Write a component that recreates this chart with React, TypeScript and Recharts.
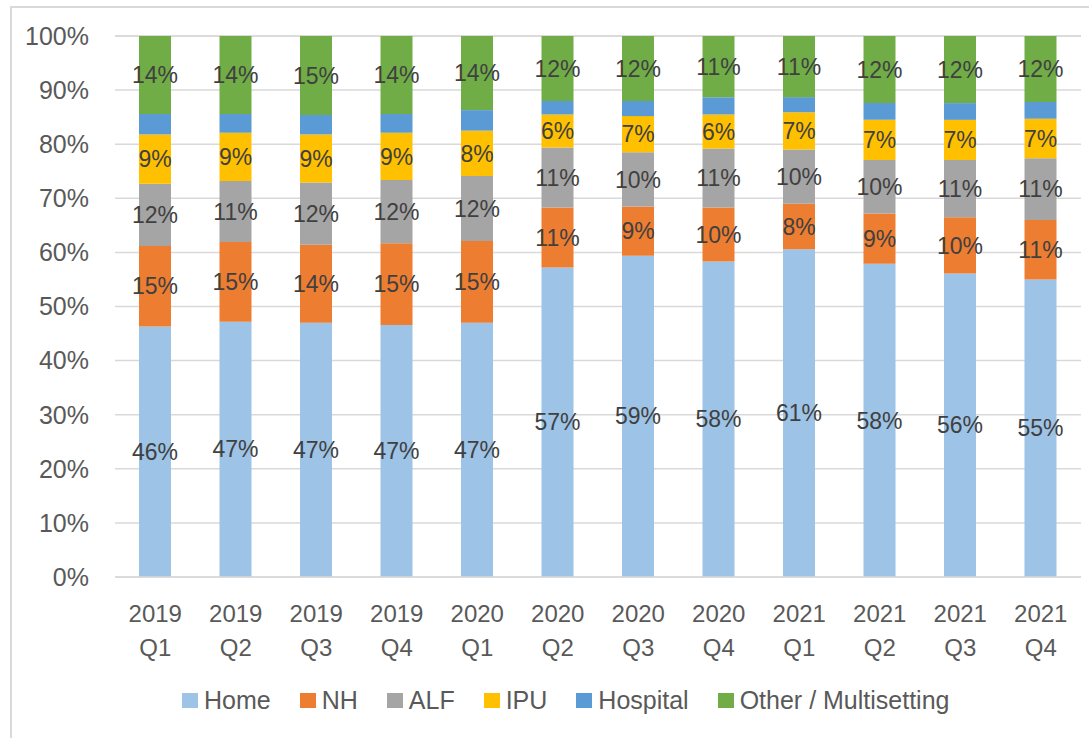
import React from 'react'
import { BarChart, Bar, XAxis, YAxis, CartesianGrid, LabelList, Legend } from 'recharts'

const quarters = ['2019 Q1', '2019 Q2', '2019 Q3', '2019 Q4', '2020 Q1', '2020 Q2', '2020 Q3', '2020 Q4', '2021 Q1', '2021 Q2', '2021 Q3', '2021 Q4']

const home = [46.3, 47.2, 47.0, 46.6, 47.0, 57.2, 59.4, 58.3, 60.6, 57.9, 56.1, 55.0]
const nh = [14.9, 14.7, 14.4, 15.1, 15.1, 11.1, 9.1, 10.0, 8.4, 9.3, 10.4, 11.0]
const alf = [11.5, 11.3, 11.5, 11.7, 12.0, 11.1, 10.0, 10.9, 10.0, 9.9, 10.6, 11.4]
const ipu = [9.1, 8.9, 8.9, 8.7, 8.4, 6.1, 6.7, 6.3, 6.9, 7.4, 7.4, 7.3]
const hospital = [3.8, 3.5, 3.6, 3.5, 3.8, 2.5, 2.8, 3.2, 2.8, 3.1, 3.1, 3.1]
const other = [14.4, 14.4, 14.6, 14.4, 13.7, 12.0, 12.0, 11.3, 11.3, 12.4, 12.4, 12.2]

const yTicks = [0, 10, 20, 30, 40, 50, 60, 70, 80, 90, 100]

const SERIES = [
  { key: 'home', name: 'Home', color: '#9dc3e6', label: true },
  { key: 'nh', name: 'NH', color: '#ed7d31', label: true },
  { key: 'alf', name: 'ALF', color: '#a5a5a5', label: true },
  { key: 'ipu', name: 'IPU', color: '#ffc000', label: true },
  { key: 'hospital', name: 'Hospital', color: '#5b9bd5', label: false },
  { key: 'other', name: 'Other / Multisetting', color: '#70ad47', label: true },
]

const data = quarters.map((q, i) => ({
  q,
  home: home[i],
  nh: nh[i],
  alf: alf[i],
  ipu: ipu[i],
  hospital: hospital[i],
  other: other[i],
}))

const FONT = "'Liberation Sans', Arial, sans-serif"

function QuarterTick({ x, y, payload }: any) {
  const [year, qq] = String(payload.value).split(' ')
  return (
    <g>
      <text x={x} y={y + 45} textAnchor="middle" fill="#595959" fontSize={24} fontFamily={FONT}>{year}</text>
      <text x={x} y={y + 79} textAnchor="middle" fill="#595959" fontSize={24} fontFamily={FONT}>{qq}</text>
    </g>
  )
}

function SettingLegend() {
  return (
    <div style={{ display: 'flex', alignItems: 'center', paddingLeft: 170, fontFamily: FONT }}>
      {SERIES.map(s => (
        <div key={s.key} style={{ display: 'flex', alignItems: 'center', marginRight: 29 }}>
          <div style={{ width: 16, height: 15, background: s.color, marginRight: 6 }} />
          <span style={{ fontSize: 25, color: '#595959' }}>{s.name}</span>
        </div>
      ))}
    </div>
  )
}

export default function App() {
  return (
    <div style={{ position: 'fixed', left: 0, top: 0, width: 1089, height: 738, overflow: 'hidden', background: '#fff' }}>
      <div style={{
        position: 'absolute',
        left: 10,
        top: 6,
        width: 1110,
        height: 770,
        borderLeft: '2px solid #d9d9d9',
        borderTop: '2px solid #d9d9d9',
      }}>
        <BarChart
          width={1100}
          height={760}
          data={data}
          margin={{ top: 28, right: 31, left: 0, bottom: 0 }}
          barSize={32}
        >
          <CartesianGrid vertical={false} stroke="#d9d9d9" strokeWidth={1.5} />
          <XAxis
            dataKey="q"
            height={191}
            axisLine={{ stroke: '#d9d9d9', strokeWidth: 1.5 }}
            tickLine={false}
            tickSize={0}
            tickMargin={0}
            interval={0}
            tick={<QuarterTick />}
          />
          <YAxis
            width={103}
            domain={[0, 100]}
            ticks={yTicks}
            axisLine={false}
            tickLine={false}
            tickSize={0}
            tickMargin={26}
            tickFormatter={(v: number) => `${v}%`}
            tick={{ fill: '#595959', fontSize: 25, fontFamily: FONT }}
          />
          <Legend
            content={<SettingLegend />}
            wrapperStyle={{ top: 678, left: 0, width: 1100, height: 0 }}
          />
          {SERIES.map(s => (
            <Bar key={s.key} dataKey={s.key} name={s.name} stackId="a" fill={s.color} isAnimationActive={false}>
              {s.label && (
                <LabelList
                  dataKey={s.key}
                  position="center"
                  formatter={(v: any) => `${Math.round(Number(v))}%`}
                  fill="#404040"
                  fontSize={23}
                  fontFamily={FONT}
                />
              )}
            </Bar>
          ))}
        </BarChart>
      </div>
    </div>
  )
}
